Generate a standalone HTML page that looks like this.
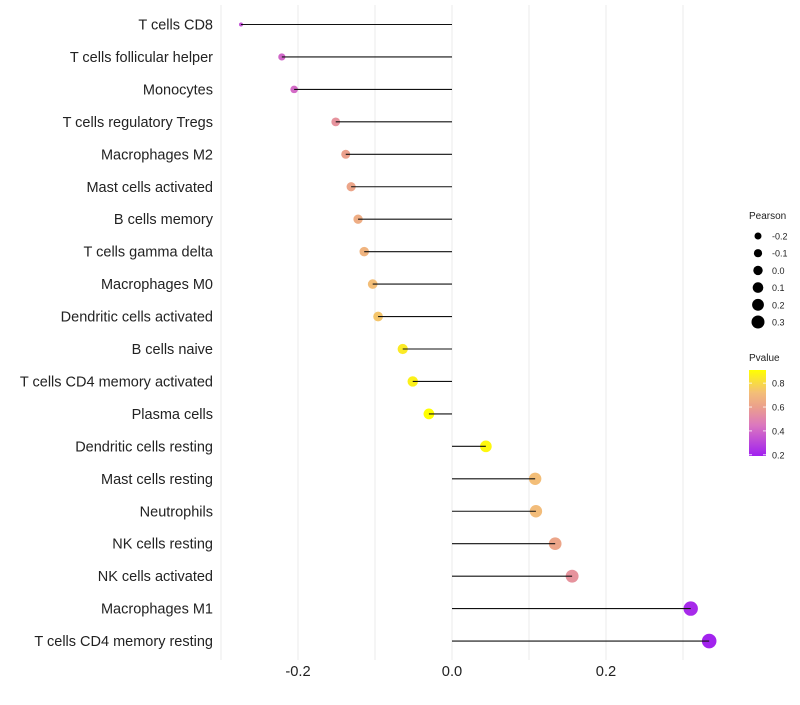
<!DOCTYPE html>
<html><head><meta charset="utf-8"><style>
body{margin:0;background:#fff;font-family:"Liberation Sans",sans-serif}
</style></head><body>
<svg id="chart" width="800" height="700" xmlns="http://www.w3.org/2000/svg" font-family="Liberation Sans, sans-serif"></svg>
<script>
const categories=["T cells CD8","T cells follicular helper","Monocytes","T cells regulatory  Tregs","Macrophages M2","Mast cells activated","B cells memory","T cells gamma delta","Macrophages M0","Dendritic cells activated","B cells naive","T cells CD4 memory activated","Plasma cells","Dendritic cells resting","Mast cells resting","Neutrophils","NK cells resting","NK cells activated","Macrophages M1","T cells CD4 memory resting"];
const pearson=[-0.274,-0.221,-0.205,-0.151,-0.138,-0.131,-0.122,-0.114,-0.103,-0.096,-0.064,-0.051,-0.030,0.044,0.108,0.109,0.134,0.156,0.310,0.334];
const pvalue=[0.33,0.40,0.41,0.55,0.60,0.62,0.65,0.68,0.72,0.74,0.85,0.87,0.92,0.89,0.72,0.71,0.62,0.55,0.22,0.20];
const xTicks=[-0.2,0,0.2];
const xTickLabels=["-0.2","0.0","0.2"];
const sizeLegend=[-0.2,-0.1,0.0,0.1,0.2,0.3];
const sizeLegendLabels=["-0.2","-0.1","0.0","0.1","0.2","0.3"];
const pLegend=[0.8,0.6,0.4,0.2];

const svg=document.getElementById('chart');
const NS="http://www.w3.org/2000/svg";
function mk(t,a,p){const e=document.createElementNS(NS,t);for(const k in a)e.setAttribute(k,a[k]);(p||svg).appendChild(e);return e;}
const x=v=>452+v*770;
const y=i=>24.5+i*32.45;
const r=v=>2+6.8*Math.sqrt(Math.max(0,v+0.274));
function col(p){
  const stops=[[0.19,[160,32,240]],[0.45,[220,120,190]],[0.6,[235,160,140]],[0.72,[243,190,120]],[0.91,[255,255,0]]];
  if(p<=stops[0][0])return 'rgb('+stops[0][1]+')';
  for(let i=1;i<stops.length;i++){if(p<=stops[i][0]){const a=stops[i-1],b=stops[i],t=(p-a[0])/(b[0]-a[0]);return 'rgb('+a[1].map((c,j)=>Math.round(c+(b[1][j]-c)*t)).join(',')+')';}}
  return 'rgb(255,255,0)';
}
const grid=mk('g',{});


for(let v=-0.3;v<=0.31;v+=0.1){mk('line',{x1:x(v),x2:x(v),y1:5,y2:660,stroke:'#ebebeb','stroke-width':1},grid);}
xTicks.forEach((v,i)=>{const t=mk('text',{x:x(v),y:676,'text-anchor':'middle','font-size':14.7,fill:'#222'});t.textContent=xTickLabels[i];
});
categories.forEach((c,i)=>{
  const t=mk('text',{x:213,y:y(i)+5,'text-anchor':'end','font-size':14.5,fill:'#222'});t.textContent=c;
  
  const pt=mk('circle',{cx:x(pearson[i]),cy:y(i),r:r(pearson[i]),fill:col(pvalue[i])});
  
  const ln=mk('line',{x1:x(0),x2:x(pearson[i]),y1:y(i),y2:y(i),stroke:'#111','stroke-width':1.1});
  
});
const lt=mk('text',{x:749,y:219,'font-size':10,fill:'#222'});lt.textContent='Pearson';

const legR=[3.5,4.1,4.7,5.3,5.9,6.5];
sizeLegend.forEach((v,i)=>{const cy=236+i*17.2;
  const c=mk('circle',{cx:758,cy:cy,r:legR[i],fill:'#000'});
  const t=mk('text',{x:772,y:cy+3.5,'font-size':9,fill:'#222'});t.textContent=sizeLegendLabels[i];
  });
const pt2=mk('text',{x:749,y:361,'font-size':10,fill:'#222'});pt2.textContent='Pvalue';

const defs=mk('defs',{});const g=mk('linearGradient',{id:'pg',x1:0,y1:1,x2:0,y2:0},defs);
[0.19,0.45,0.6,0.72,0.91].forEach(p=>mk('stop',{offset:(p-0.19)/0.72,'stop-color':col(p)},g));
const bar=mk('rect',{x:749,y:370,width:17,height:86,fill:'url(#pg)'});

pLegend.forEach(p=>{const cy=456-(p-0.19)/0.72*86;
  mk('line',{x1:749,x2:752,y1:cy,y2:cy,stroke:'#fff','stroke-width':0.8});mk('line',{x1:763,x2:766,y1:cy,y2:cy,stroke:'#fff','stroke-width':0.8});
  const t=mk('text',{x:772,y:cy+3.5,'font-size':9,fill:'#222'});t.textContent=p.toFixed(1);
  });
</script>
</body></html>
